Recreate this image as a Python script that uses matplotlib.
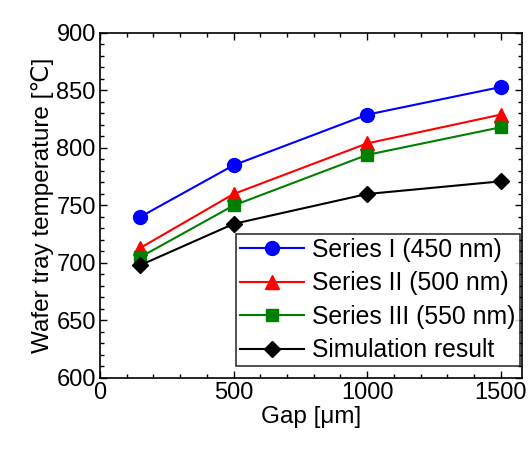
import matplotlib
matplotlib.use("Agg")
import matplotlib.pyplot as plt
from matplotlib.ticker import MultipleLocator

plt.rcParams['font.family'] = ['Liberation Sans', 'DejaVu Sans']

gap = [150, 500, 1000, 1500]
series1 = [740, 785, 829, 853]
series2 = [713, 760, 804, 829]
series3 = [705, 750, 794, 818]
simulation = [698, 734, 760, 771]

labels = ["Series I (450 nm)", "Series II (500 nm)", "Series III (550 nm)", "Simulation result"]
colors = ["#0000ff", "#ff0000", "#008000", "#000000"]
markers = ["o", "^", "s", "D"]
sizes = [10, 10, 8, 8.5]

fig = plt.figure(figsize=(5.31, 4.53), dpi=100)
ax = fig.add_axes([100 / 531, 1 - 378 / 453, (522 - 100) / 531, (378 - 33) / 453])

for ys, lab, c, m, s in zip([series1, series2, series3, simulation], labels, colors, markers, sizes):
    ax.plot(gap, ys, "-", color=c, marker=m, markersize=s, linewidth=1.5, label=lab)

ax.set_xlim(0, 1580)
ax.set_ylim(600, 900)
ax.xaxis.set_major_locator(MultipleLocator(500))
ax.xaxis.set_minor_locator(MultipleLocator(100))
ax.yaxis.set_major_locator(MultipleLocator(50))
ax.yaxis.set_minor_locator(MultipleLocator(10))
ax.tick_params(which="both", direction="in", top=True, right=True, labelsize=17)
ax.tick_params(which="major", length=5, width=1, pad=3)
ax.tick_params(which="minor", length=3, width=1)
for sp in ax.spines.values():
    sp.set_linewidth(1.2)

ax.set_xlabel("Gap [\u03bcm]", fontsize=17.5, labelpad=1)
ax.set_ylabel("Wafer tray temperature [\u2103]", fontsize=17.5, labelpad=2)

leg = ax.legend(loc="lower right", fontsize=17.8, frameon=True, fancybox=False,
                edgecolor="black", borderpad=0.15, labelspacing=0.38, handlelength=2.6,
                handletextpad=0.35, borderaxespad=0.1, bbox_to_anchor=(1.0, 0.028))
leg.get_frame().set_linewidth(1.2)

fig.savefig("out.png", dpi=100)
